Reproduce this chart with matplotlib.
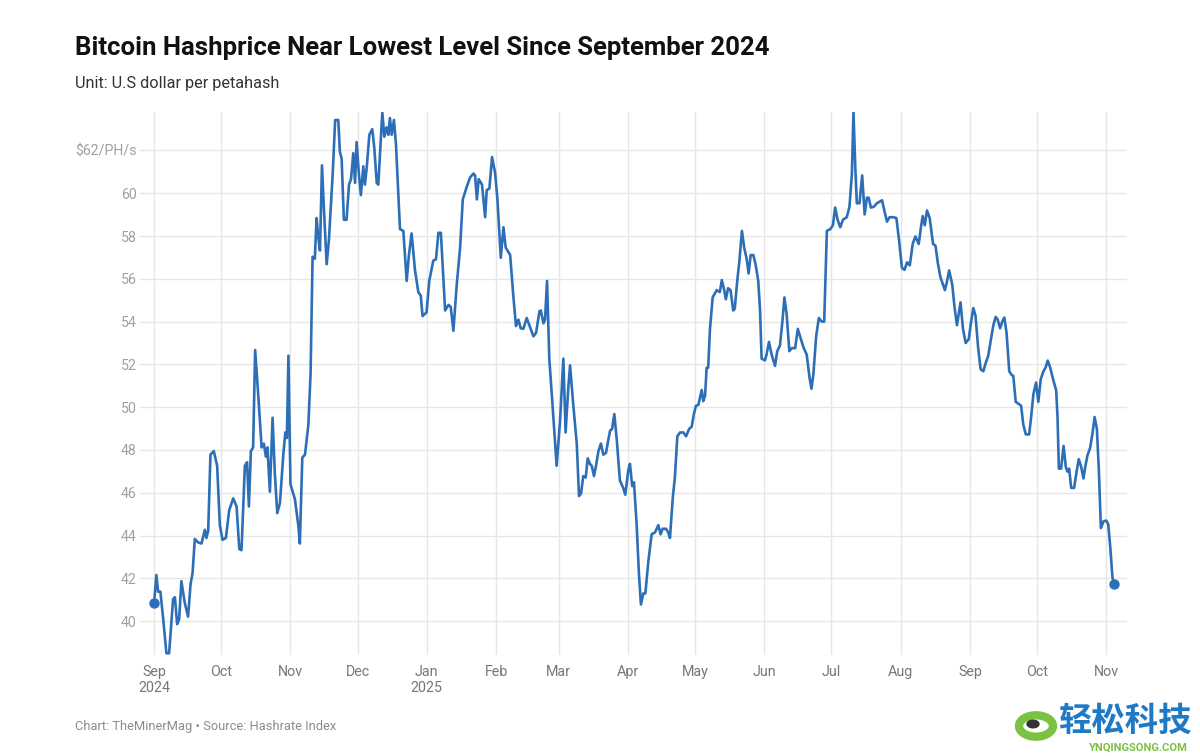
import datetime as dt

import matplotlib
matplotlib.use('Agg')
import matplotlib.pyplot as plt
from matplotlib.patches import Circle

plt.rcParams['font.family'] = ['Roboto', 'DejaVu Sans']

# days after 2024-09-01
_DAYS = [
    0.0, 1.0, 1.8, 2.8, 4.0, 5.5, 6.7, 8.5, 9.3, 10.3, 11.2, 12.2, 13.7, 15.2,
    16.3, 17.2, 18.2, 19.7, 21.2, 22.7, 23.4, 24.2, 25.2, 26.7, 28.2, 29.4,
    30.6, 32.1, 33.6, 35.4, 36.9, 38.1, 39.1, 40.6, 41.6, 42.4, 43.3, 44.3,
    45.2, 46.6, 48.1, 49.1, 50.0, 50.7, 51.8, 53.0, 54.0, 55.1, 56.3, 57.8,
    58.7, 59.4, 60.1, 61.0, 63.0, 64.5, 65.2, 66.3, 67.5, 69.0, 70.0, 70.9,
    71.9, 72.7, 73.4, 74.2, 75.1, 76.0, 77.2, 78.2, 79.9, 81.0, 82.4, 83.1,
    83.9, 84.9, 86.1, 87.2, 88.1, 89.1, 89.9, 90.6, 91.6, 92.5, 93.6, 94.3,
    95.1, 96.3, 97.6, 98.5, 99.6, 100.3, 101.2, 102.1, 103.0, 104.0, 104.8,
    105.5, 106.3, 107.3, 108.2, 110.0, 111.5, 113.0, 114.0, 115.2, 116.7,
    118.2, 119.3, 120.1, 121.9, 123.1, 124.9, 126.1, 127.2, 128.3, 129.2,
    130.2, 131.7, 132.7, 133.9, 135.4, 136.9, 138.1, 139.9, 141.4, 142.9,
    143.6, 144.4, 145.2, 146.7, 148.1, 148.8, 150.0, 151.2, 152.6, 153.6,
    155.1, 156.3, 157.3, 159.3, 160.7, 161.9, 163.0, 164.0, 165.2, 166.7,
    168.2, 169.7, 170.9, 172.4, 173.0, 174.2, 174.9, 175.8, 176.8, 178.2,
    180.1, 181.6, 183.1, 184.1, 185.3, 186.1, 187.6, 189.1, 190.1, 191.0,
    192.0, 193.1, 194.0, 195.0, 195.8, 196.8, 197.7, 198.8, 199.9, 201.0,
    202.2, 203.2, 204.0, 204.9, 205.9, 207.0, 208.4, 209.9, 210.8, 212.2,
    212.9, 213.9, 214.7, 215.9, 216.9, 217.8, 218.9, 219.8, 221.1, 222.6,
    224.1, 225.6, 226.6, 227.5, 229.0, 230.0, 230.8, 232.0, 233.0, 234.1,
    235.3, 236.8, 238.0, 239.4, 240.5, 241.5, 242.4, 243.5, 245.0, 245.7,
    246.5, 247.2, 247.9, 248.7, 249.9, 251.7, 253.1, 254.0, 254.9, 255.8,
    256.8, 257.9, 259.1, 259.8, 260.9, 261.8, 263.0, 264.0, 265.1, 266.0,
    266.9, 268.1, 269.1, 270.3, 271.1, 271.8, 273.3, 274.0, 275.1, 276.3,
    277.8, 278.8, 280.0, 281.1, 282.0, 283.0, 284.2, 285.3, 286.8, 288.0,
    289.0, 290.5, 292.0, 293.2, 294.1, 295.0, 296.2, 297.4, 298.7, 299.8,
    301.0, 302.5, 303.7, 304.7, 305.8, 307.0, 308.2, 309.9, 311.1, 312.2,
    312.9, 313.7, 314.4, 315.6, 316.8, 317.9, 318.9, 319.7, 320.7, 321.9,
    323.4, 325.7, 326.7, 327.9, 329.1, 330.6, 332.1, 333.3, 334.6, 335.7,
    336.9, 338.1, 339.4, 340.6, 342.1, 343.2, 343.9, 344.8, 345.8, 347.0,
    348.5, 349.6, 350.6, 351.8, 353.8, 354.8, 355.7, 357.1, 358.1, 359.2,
    360.1, 360.8, 361.9, 363.1, 364.5, 365.3, 366.5, 367.5, 368.7, 369.8,
    371.0, 372.0, 373.2, 374.3, 375.5, 376.5, 377.4, 378.5, 379.5, 380.4,
    381.4, 382.6, 383.7, 384.4, 385.5, 386.7, 387.9, 388.9, 390.0, 391.5,
    392.4, 393.4, 394.6, 395.6, 396.7, 397.9, 398.9, 399.8, 400.9, 402.4,
    403.6, 404.2, 404.8, 405.8, 406.9, 407.9, 408.6, 409.4, 410.3, 411.6,
    412.8, 413.7, 414.8, 415.8, 416.6, 417.6, 418.8, 419.9, 420.8, 421.8,
    422.7, 423.6, 424.8, 426.0, 426.9, 427.8, 428.8, 429.6,
]

# hashprice, USD per PH/s per day
_HASHPRICE = [
    40.86, 42.16, 41.38, 41.38, 40.17, 38.50, 38.50, 41.04, 41.12, 39.86,
    40.09, 41.87, 40.86, 40.21, 41.73, 42.25, 43.84, 43.68, 43.63, 44.27,
    43.89, 44.24, 47.78, 47.95, 47.26, 44.49, 43.80, 43.89, 45.19, 45.74,
    45.36, 43.37, 43.32, 47.26, 47.43, 45.36, 47.95, 48.12, 52.67, 50.54,
    48.12, 48.30, 47.69, 48.12, 46.05, 49.51, 46.91, 45.05, 45.53, 47.78,
    48.82, 48.56, 52.41, 46.40, 45.70, 44.49, 43.63, 47.64, 47.78, 49.16,
    51.58, 57.03, 56.94, 58.84, 57.98, 57.32, 61.30, 59.19, 56.68, 57.80,
    60.92, 63.42, 63.42, 61.95, 61.61, 58.76, 58.76, 60.40, 60.66, 61.87,
    60.48, 62.39, 60.92, 59.91, 61.26, 60.40, 61.17, 62.73, 62.99, 62.13,
    60.48, 60.40, 62.13, 63.77, 62.64, 63.08, 62.73, 63.51, 62.73, 63.42,
    62.30, 58.32, 58.24, 55.90, 57.11, 58.12, 56.42, 55.38, 55.21, 54.26,
    54.43, 55.90, 56.85, 56.91, 58.15, 58.15, 56.42, 54.52, 54.78, 54.69,
    53.57, 55.73, 57.46, 59.71, 60.31, 60.74, 60.92, 60.83, 59.71, 60.66,
    60.40, 58.88, 60.14, 60.22, 61.69, 60.92, 59.71, 56.98, 58.41, 57.46,
    57.11, 55.21, 53.79, 54.09, 53.69, 53.66, 54.17, 53.74, 53.31, 53.48,
    54.48, 54.52, 53.92, 54.09, 55.90, 52.27, 50.19, 47.26, 49.33, 52.27,
    48.82, 50.89, 51.96, 50.03, 48.30, 45.85, 45.96, 46.78, 46.71, 47.61,
    47.35, 47.26, 46.78, 47.26, 47.95, 48.30, 47.78, 47.87, 48.47, 48.90,
    48.99, 49.68, 48.47, 46.57, 46.22, 45.91, 47.09, 47.35, 46.31, 46.49,
    44.49, 42.25, 40.78, 41.30, 41.30, 42.77, 44.06, 44.15, 44.49, 44.06,
    44.32, 44.32, 44.15, 43.89, 45.70, 46.74, 48.64, 48.82, 48.82, 48.64,
    48.99, 49.08, 49.68, 50.06, 50.11, 50.80, 50.28, 50.54, 51.84, 51.84,
    53.66, 55.13, 55.47, 55.38, 55.94, 55.56, 55.04, 55.56, 55.47, 54.52,
    54.61, 55.90, 56.77, 58.24, 57.46, 56.94, 56.25, 57.11, 57.11, 56.68,
    55.90, 54.52, 52.27, 52.19, 52.45, 53.05, 52.45, 51.93, 52.62, 52.88,
    54.00, 55.13, 54.35, 52.62, 52.76, 52.76, 53.66, 53.31, 52.80, 52.45,
    51.41, 50.86, 51.58, 53.31, 54.17, 54.00, 54.00, 58.24, 58.32, 58.50,
    59.33, 58.76, 58.41, 58.76, 58.88, 59.36, 60.92, 63.77, 61.26, 59.53,
    59.53, 60.83, 59.01, 59.79, 59.79, 59.33, 59.36, 59.53, 59.67, 59.19,
    58.67, 58.88, 58.88, 58.84, 57.80, 56.51, 56.42, 56.77, 56.63, 57.63,
    57.98, 57.63, 58.50, 58.93, 58.50, 59.19, 58.84, 57.63, 57.55, 56.77,
    56.08, 55.47, 55.90, 56.39, 55.73, 54.69, 53.83, 54.43, 54.90, 53.66,
    53.00, 53.18, 53.83, 54.63, 54.28, 52.75, 51.77, 51.68, 52.04, 52.40,
    53.11, 53.83, 54.22, 54.10, 53.69, 54.01, 54.19, 53.47, 51.68, 51.50,
    51.47, 50.25, 50.16, 50.07, 49.18, 48.73, 48.73, 49.54, 50.61, 51.15,
    50.25, 51.32, 51.68, 51.86, 52.18, 51.86, 51.23, 50.79, 49.54, 47.13,
    47.13, 48.19, 47.21, 46.99, 47.13, 46.23, 46.23, 47.03, 47.57, 47.21,
    46.67, 47.21, 47.75, 48.10, 48.82, 49.54, 49.00, 47.03, 44.35, 44.67,
    44.70, 44.53, 43.45, 42.02, 41.75,
]

_START = dt.datetime(2024, 9, 1)
_MONTHS = ['2024-09', '2024-10', '2024-11', '2024-12', '2025-01', '2025-02',
           '2025-03', '2025-04', '2025-05', '2025-06', '2025-07', '2025-08',
           '2025-09', '2025-10', '2025-11']
_MONTH_LABELS = ['Sep\n2024', 'Oct', 'Nov', 'Dec', 'Jan\n2025', 'Feb', 'Mar',
                 'Apr', 'May', 'Jun', 'Jul', 'Aug', 'Sep', 'Oct', 'Nov']
_Y_TICKS = [40, 42, 44, 46, 48, 50, 52, 54, 56, 58, 60, 62]

_BLUE = '#2d6fb6'


def main():
  dates = [_START + dt.timedelta(days=d) for d in _DAYS]
  month_dates = [dt.datetime.strptime(m, '%Y-%m') for m in _MONTHS]

  fig = plt.figure(figsize=(12, 7.56), dpi=100)
  ax = fig.add_axes([0.1167, 0.1336, 0.8225, 0.7184])

  ax.plot(dates, _HASHPRICE, color=_BLUE, lw=1.9, solid_joinstyle='round',
          solid_capstyle='round', zorder=3)
  ax.plot([dates[0], dates[-1]], [_HASHPRICE[0], _HASHPRICE[-1]], 'o',
          color=_BLUE, ms=6.5, zorder=4)

  ax.set_xlim(_START - dt.timedelta(days=6.3), _START + dt.timedelta(days=435.3))
  ax.set_ylim(38.42, 63.8)

  ax.set_yticks(_Y_TICKS)
  ax.set_yticklabels([str(v) for v in _Y_TICKS[:-1]] + ['$62/PH/s'])
  ax.set_xticks(month_dates)
  ax.set_xticklabels(_MONTH_LABELS)

  ax.grid(True, color='#e6e6e6', lw=1.0)
  ax.set_axisbelow(True)
  for s in ax.spines.values():
    s.set_visible(False)
  ax.tick_params(axis='y', length=0, pad=2.5, labelsize=10.2,
                 labelcolor='#a0a0a0')
  ax.tick_params(axis='x', length=0, pad=7, labelsize=10.3,
                 labelcolor='#777777')
  for lbl in ax.get_xticklabels():
    lbl.set_linespacing(1.25)
    lbl.set_verticalalignment('top')

  fig.text(0.0625, 0.937, 'Bitcoin Hashprice Near Lowest Level Since September 2024',
           fontsize=18.5, fontweight='bold', color='#111111', va='center')
  fig.text(0.0625, 0.889, 'Unit: U.S dollar per petahash', fontsize=11.7,
           color='#333333', va='center')
  fig.text(0.0625, 0.039, 'Chart: TheMinerMag \u2022 Source: Hashrate Index',
           fontsize=9.3, color='#8c8c8c', va='center')

  # site watermark, bottom right
  fig.patches.append(Circle((1036 / 1200, 1 - 726 / 756), 17 / 1200,
                            transform=fig.transFigure, facecolor='none',
                            edgecolor='#7cc242', lw=6))
  fig.patches.append(Circle((1033 / 1200, 1 - 724 / 756), 6 / 1200,
                            transform=fig.transFigure, color='#333333'))
  fig.text(1058 / 1200, 1 - 721 / 756, '轻松科技', fontsize=24,
           fontweight='bold', color='#1f7ac6', va='center',
           family=['Noto Sans CJK SC', 'DejaVu Sans'])
  fig.text(1138 / 1200, 1 - 748 / 756, 'YNQINGSONG.COM', fontsize=8,
           fontweight='bold', color='#7cc242', va='center', ha='center')

  fig.savefig('out.png', dpi=100)


if __name__ == '__main__':
  main()
